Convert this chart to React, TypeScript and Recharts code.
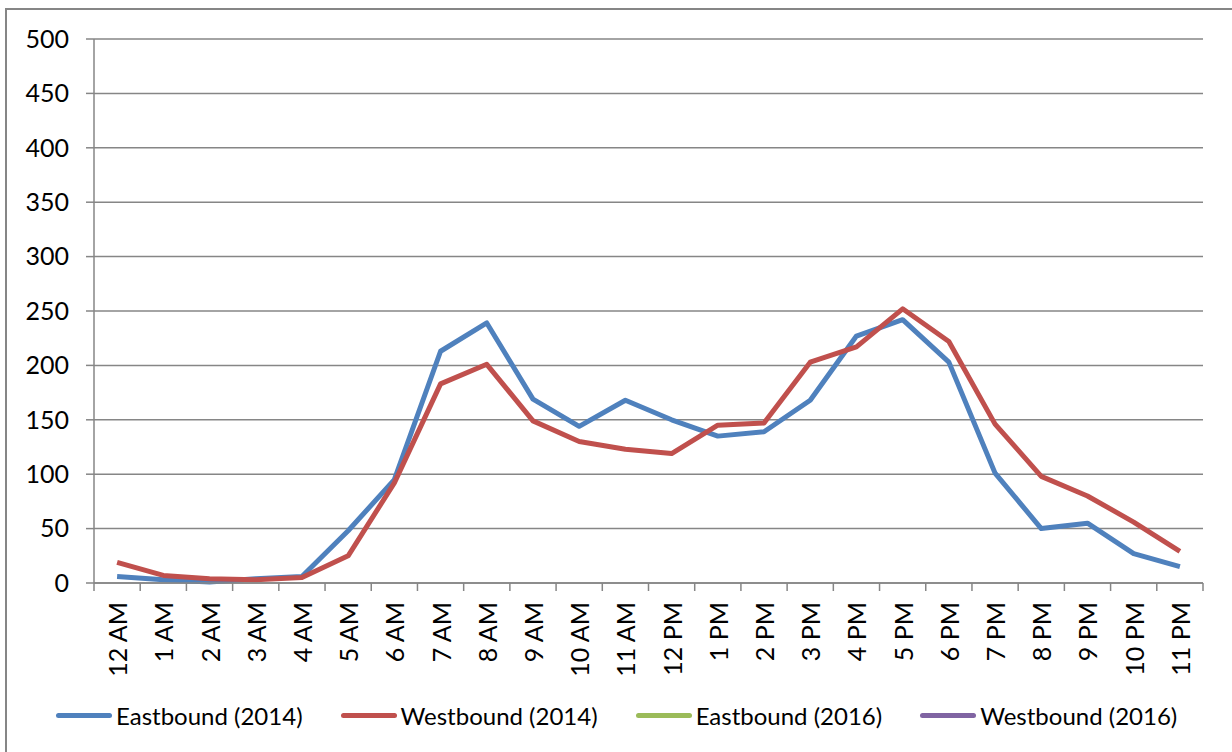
import { CartesianGrid, Line, LineChart, XAxis, YAxis } from "recharts";

const hours = [
  "12 AM", "1 AM", "2 AM", "3 AM", "4 AM", "5 AM", "6 AM", "7 AM", "8 AM", "9 AM", "10 AM", "11 AM",
  "12 PM", "1 PM", "2 PM", "3 PM", "4 PM", "5 PM", "6 PM", "7 PM", "8 PM", "9 PM", "10 PM", "11 PM"
];

const eastbound2014 = [6, 3, 1, 4, 6, 48, 95, 213, 239, 169, 144, 168, 150, 135, 139, 168, 227, 242, 203, 101, 50, 55, 27, 15];
const westbound2014 = [19, 7, 4, 3, 5, 25, 92, 183, 201, 149, 130, 123, 119, 145, 147, 203, 217, 252, 222, 146, 98, 80, 56, 29];

const yTicks = [0, 50, 100, 150, 200, 250, 300, 350, 400, 450, 500];

const series = [
  { key: "east2014", name: "Eastbound (2014)", color: "#4F81BD" },
  { key: "west2014", name: "Westbound (2014)", color: "#C0504D" },
  { key: "east2016", name: "Eastbound (2016)", color: "#9BBB59" },
  { key: "west2016", name: "Westbound (2016)", color: "#8064A2" }
];

const chartData = hours.map((hour, i) => ({
  hour,
  east2014: eastbound2014[i],
  west2014: westbound2014[i]
}));

const FONT = "Lato, 'Open Sans', sans-serif";
const GRID = "#868686";
const PLOT_LEFT = 94;
const PLOT_RIGHT = 1203;
const AXIS_Y = 583;
const BAND = (PLOT_RIGHT - PLOT_LEFT) / hours.length;

function HourTick(props: any) {
  const { x, payload, index } = props;
  const left = x - BAND / 2;
  const right = x + BAND / 2;
  return (
    <g>
      <line x1={left} x2={left} y1={AXIS_Y} y2={AXIS_Y + 8} stroke={GRID} strokeWidth={1.5} />
      {index === hours.length - 1 ? (
        <line x1={right} x2={right} y1={AXIS_Y} y2={AXIS_Y + 8} stroke={GRID} strokeWidth={1.5} />
      ) : null}
      <text
        x={x}
        y={602}
        transform={`rotate(-90, ${x}, 602)`}
        textAnchor="end"
        dominantBaseline="central"
        fill="#000"
        fontSize={25}
        fontFamily={FONT}
      >
        {payload.value}
      </text>
    </g>
  );
}

export default function App() {
  return (
    <div style={{ position: "absolute", left: 0, top: 0, width: 1232, height: 752, background: "#fff", overflow: "hidden" }}>
      <div style={{ position: "absolute", left: 5, top: 8, width: 1240, height: 760, border: `2px solid ${GRID}`, boxSizing: "border-box" }} />
      <div style={{ position: "absolute", left: 0, top: 0 }}>
        <LineChart width={1232} height={752} data={chartData} margin={{ top: 39, right: 1232 - PLOT_RIGHT, left: 0, bottom: 0 }}>
          <CartesianGrid vertical={false} stroke={GRID} strokeWidth={1.5} />
          <XAxis
            dataKey="hour"
            interval={0}
            height={752 - AXIS_Y}
            padding={{ left: BAND / 2, right: BAND / 2 }}
            axisLine={{ stroke: GRID, strokeWidth: 1.5 }}
            tickLine={false}
            tick={<HourTick />}
          />
          <YAxis
            domain={[0, 500]}
            ticks={yTicks}
            width={PLOT_LEFT}
            axisLine={{ stroke: GRID, strokeWidth: 1.5 }}
            tickLine={{ stroke: GRID, strokeWidth: 1.5 }}
            tickSize={8}
            tickMargin={17}
            tick={{ fill: "#000", fontSize: 25, fontFamily: FONT }}
          />
          {series.map((s) => (
            <Line
              key={s.key}
              type="linear"
              dataKey={s.key}
              name={s.name}
              stroke={s.color}
              strokeWidth={5}
              strokeLinejoin="round"
              dot={false}
              isAnimationActive={false}
            />
          ))}
        </LineChart>
      </div>
      <div
        style={{
          position: "absolute",
          left: 56,
          top: 699,
          height: 32,
          display: "flex",
          alignItems: "center",
          gap: 38,
          fontFamily: FONT,
          fontSize: 24,
          color: "#000",
          whiteSpace: "nowrap"
        }}
      >
        {series.map((s) => (
          <div key={s.key} style={{ display: "flex", alignItems: "center" }}>
            <span style={{ display: "inline-block", width: 56, height: 5, borderRadius: 3, background: s.color, marginRight: 4 }} />
            <span>{s.name}</span>
          </div>
        ))}
      </div>
    </div>
  );
}
